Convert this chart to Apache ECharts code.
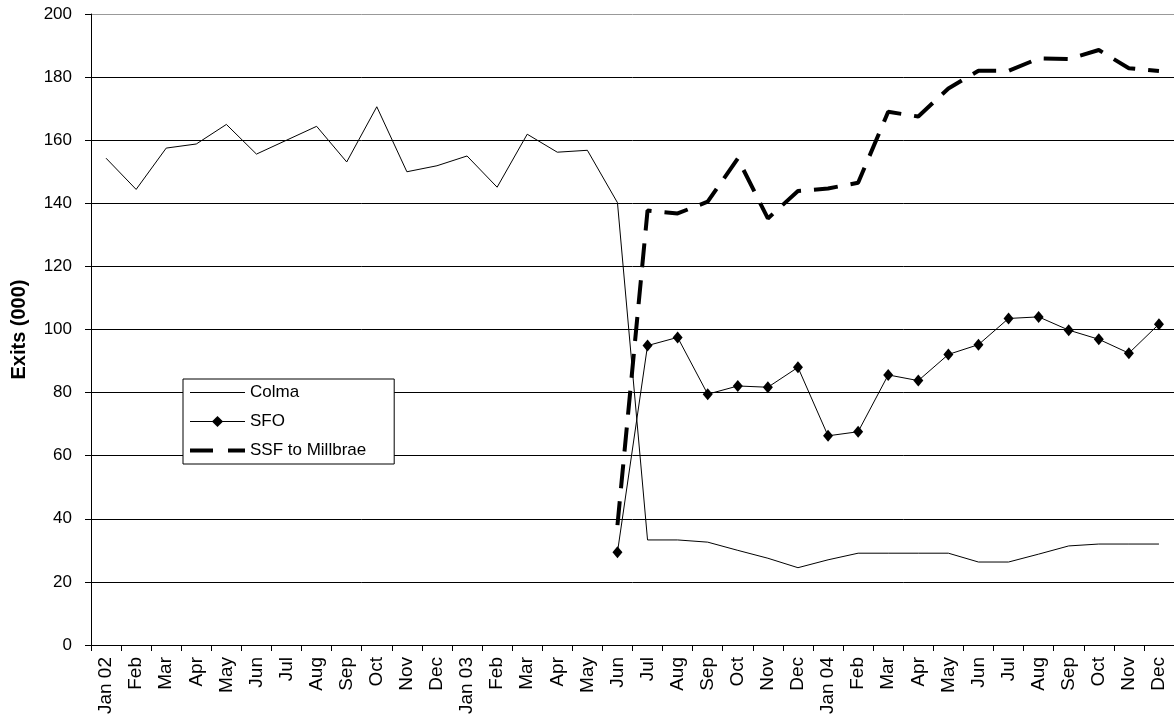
<!DOCTYPE html>
<html>
<head>
<meta charset="utf-8">
<script src="https://cdn.jsdelivr.net/npm/echarts@6/dist/echarts.min.js"></script>
<style>
html,body{margin:0;padding:0;background:#fff;}
#chart{width:1174px;height:723px;}
</style>
</head>
<body>
<div id="chart"></div>
<script>
const categories = ['Jan 02','Feb','Mar','Apr','May','Jun','Jul','Aug','Sep','Oct','Nov','Dec',
  'Jan 03','Feb','Mar','Apr','May','Jun','Jul','Aug','Sep','Oct','Nov','Dec',
  'Jan 04','Feb','Mar','Apr','May','Jun','Jul','Aug','Sep','Oct','Nov','Dec'];

const colma = [154.3,144.4,157.5,158.8,165.0,155.6,160.0,164.4,153.1,170.6,150.0,151.9,
  155.0,145.1,161.9,156.2,156.8,140.2,33.3,33.3,32.6,30.0,27.5,24.5,
  27.0,29.1,29.1,29.1,29.1,26.3,26.3,28.8,31.4,32.0,32.0,32.0];

const sfo = [null,null,null,null,null,null,null,null,null,null,null,null,
  null,null,null,null,null,29.4,94.9,97.5,79.5,82.1,81.7,88.0,
  66.3,67.6,85.6,83.8,92.1,95.2,103.5,104.0,99.8,96.9,92.5,101.7];

const ssf = [null,null,null,null,null,null,null,null,null,null,null,null,
  null,null,null,null,null,38.0,137.7,136.8,140.5,154.2,135.2,143.9,
  144.7,146.5,169.0,167.5,176.4,182.0,182.0,185.9,185.7,188.6,182.8,181.9];

const yTicks = {min: 0, max: 200, interval: 20};
const seriesNames = ['Colma','SFO','SSF to Millbrae'];

const FONT = '"Liberation Sans", Arial, sans-serif';
const chart = echarts.init(document.getElementById('chart'), null, {renderer:'canvas'});
const gridColors = ['#000','#000','#000','#000','#000','#000','#000','#000','#000','#000','#999'];

chart.setOption({
  animation: false,
  backgroundColor: '#fff',
  grid: {left: 91, top: 14, width: 1089, height: 631, containLabel: false},
  legend: {
    orient: 'vertical',
    left: 183, top: 379,
    padding: [5, 28, 5, 5],
    itemWidth: 55, itemHeight: 14, itemGap: 12,
    borderColor: '#000', borderWidth: 1, backgroundColor: '#fff',
    textStyle: {fontFamily: FONT, fontSize: 17, color: '#000'},
    data: [
      {name: seriesNames[0], itemStyle: {opacity: 0}, lineStyle: {width: 1, color: '#000'}},
      {name: seriesNames[1], lineStyle: {width: 1, color: '#000'}},
      {name: seriesNames[2], itemStyle: {opacity: 0}, lineStyle: {width: 4, color: '#000', type: [23, 15]}}
    ]
  },
  xAxis: {
    type: 'category',
    data: categories,
    boundaryGap: true,
    axisLine: {lineStyle: {color: '#000', width: 1}},
    axisTick: {show: true, length: 6, lineStyle: {color: '#000'}},
    axisLabel: {rotate: 90, fontFamily: FONT, fontSize: 19, color: '#000', margin: 12, interval: 0},
    splitLine: {show: false}
  },
  yAxis: {
    type: 'value',
    min: yTicks.min, max: yTicks.max, interval: yTicks.interval,
    name: 'Exits (000)',
    nameLocation: 'middle',
    nameGap: 62,
    nameTextStyle: {fontFamily: FONT, fontSize: 20, fontWeight: 'bold', color: '#000'},
    axisLine: {show: true, lineStyle: {color: '#000', width: 1}},
    axisTick: {show: true, length: 6, lineStyle: {color: '#000'}},
    axisLabel: {fontFamily: FONT, fontSize: 17, color: '#000', margin: 19},
    splitLine: {show: true, lineStyle: {color: gridColors, width: 1}}
  },
  series: [
    {
      name: seriesNames[0], type: 'line', data: colma,
      symbol: 'none', lineStyle: {color: '#000', width: 1}, itemStyle: {color: '#000'}
    },
    {
      name: seriesNames[1], type: 'line', data: sfo,
      symbol: 'diamond', symbolSize: [10, 12], showSymbol: true,
      lineStyle: {color: '#000', width: 1}, itemStyle: {color: '#000'}
    },
    {
      name: seriesNames[2], type: 'line', data: ssf,
      symbol: 'none',
      lineStyle: {color: '#000', width: 4, type: [24, 13]}, itemStyle: {color: '#000'}
    }
  ]
});
</script>
</body>
</html>
